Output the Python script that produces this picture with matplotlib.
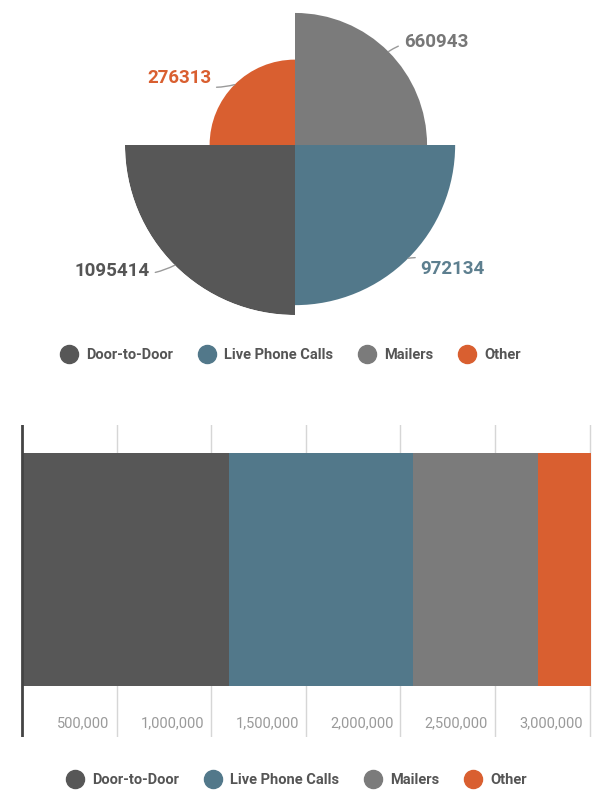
import numpy as np
import matplotlib.pyplot as plt
from matplotlib.lines import Line2D

# data
categories = ['Door-to-Door', 'Live Phone Calls', 'Mailers', 'Other']
values = [1095414, 972134, 660943, 276313]
colors = ['#575757', '#52788a', '#7b7b7b', '#d95f30']
label_colors = ['#555555', '#5d7f8f', '#777777', '#d95f30']
ticks = [500000, 1000000, 1500000, 2000000, 2500000, 3000000]
tick_labels = ['500,000', '1,000,000', '1,500,000', '2,000,000', '2,500,000', '3,000,000']

plt.rcParams['font.family'] = ['Roboto', 'DejaVu Sans']

W, H = 603, 792
fig = plt.figure(figsize=(W/100, H/100), dpi=100)

# polar area chart: Door (bottom-left), Live (bottom-right), Mailers (top-right), Other (top-left)
quad_start = {'Mailers': 0, 'Other': 90, 'Door-to-Door': 180, 'Live Phone Calls': 270}
cx, cy, R = 295, 145, 170
axp = fig.add_axes([(cx-R)/W, 1-(cy+R)/H, 2*R/W, 2*R/H], projection='polar')
radii = np.sqrt(values)
axp.set_ylim(0, radii.max())
offsets = {'Mailers': (11, 7), 'Other': (-17, 5), 'Door-to-Door': (-18, -4), 'Live Phone Calls': (9, -8)}
for cat, r, col, lc, v in zip(categories, radii, colors, label_colors, values):
    t0 = np.deg2rad(quad_start[cat])
    axp.bar(t0, r, width=np.pi/2, align='edge', color=col, linewidth=0)
    tm = t0 + np.pi/4
    dx, dy = offsets[cat]
    ha = 'left' if dx > 0 else 'right'
    axp.annotate(str(v), xy=(tm, r), xytext=(dx, dy), textcoords='offset points',
                 ha=ha, va='center', fontsize=13.5, fontweight='bold', color=lc,
                 arrowprops=dict(arrowstyle='-', color='#9a9a9a', lw=1,
                                 shrinkA=2, shrinkB=0,
                                 connectionstyle='arc3,rad=0.2'))
axp.set_axis_off()

def legend(y, x):
    handles = [Line2D([], [], marker='o', linestyle='', markersize=13,
                      markerfacecolor=c, markeredgecolor=c) for c in colors]
    fig.legend(handles, categories, loc='center', bbox_to_anchor=(x, y), ncol=4,
               frameon=False, handletextpad=0.2, columnspacing=1.3,
               prop={'size': 10.5, 'weight': 'bold'}, labelcolor='#555555')

legend(1-355/H, 0.477)

# stacked horizontal bar
axb = fig.add_axes([21/W, 1-737/H, (W-21)/W, (737-425)/H])
left = 0
for cat, v, col in zip(categories, values, colors):
    axb.barh(0.537, v, height=0.747, left=left, color=col, linewidth=0, zorder=2)
    left += v
scale = 500000/94.6
axb.set_xlim(-1*scale, (W-22)*scale)
axb.set_ylim(0, 1)
for t, lab in zip(ticks, tick_labels):
    axb.axvline(t, color='#d6d6d6', lw=1, zorder=1)
    axb.text(t - 7*scale, 0.045, lab, ha='right', va='center', fontsize=10.5, color='#9a9a9a')
axb.axvline(0, color='#444444', lw=2, zorder=3)
axb.set_axis_off()

legend(1-780/H, 0.487)

fig.savefig('out.png', dpi=100)
